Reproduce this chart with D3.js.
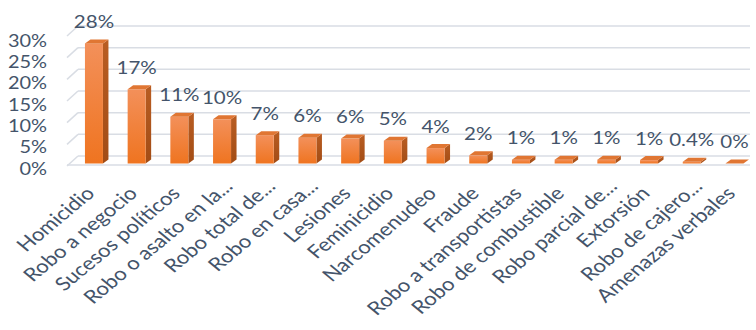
<!DOCTYPE html>
<html>
<head>
<meta charset="utf-8">
<script src="https://cdn.jsdelivr.net/npm/d3@7"></script>
<style>
  html, body { margin: 0; padding: 0; background: #fff; }
  svg { display: block; }
  text { font-family: Lato, "Open Sans", sans-serif; fill: #44546A; }
</style>
</head>
<body>
<svg id="chart" width="756" height="330"></svg>
<script>
const categories = [
  "Homicidio", "Robo a negocio", "Sucesos políticos", "Robo o asalto en la...",
  "Robo total de...", "Robo en casa...", "Lesiones", "Feminicidio",
  "Narcomenudeo", "Fraude", "Robo a transportistas", "Robo de combustible",
  "Robo parcial de...", "Extorsión", "Robo de cajero...", "Amenazas verbales"
];
const values = [28, 17.3, 10.9, 10.3, 6.6, 6.0, 5.8, 5.3, 3.6, 1.9, 0.9, 0.9, 0.9, 0.8, 0.4, 0];
const valueLabels = ["28%", "17%", "11%", "10%", "7%", "6%", "6%", "5%", "4%", "2%", "1%", "1%", "1%", "1%", "0.4%", "0%"];
const yTicks = [0, 5, 10, 15, 20, 25, 30];

const svg = d3.select("#chart");
const FONT = "Lato, 'Open Sans', sans-serif";
const SX = 1.14; // horizontal stretch seen in the reference

const x = d3.scaleBand().domain(categories).range([72.6, 755.8]).padding(0);
const y = d3.scaleLinear().domain([0, 30]).range([163.5, 34.8]);        // front plane (bars)
const yBack = d3.scaleLinear().domain([0, 30]).range([156, 26]);        // back wall gridlines
const yLab = d3.scaleLinear().domain([0, 30]).range([168, 40]);         // axis labels

const defs = svg.append("defs");
const gFront = defs.append("linearGradient").attr("id", "gFront")
  .attr("x1", 0).attr("y1", 0).attr("x2", 0).attr("y2", 1);
gFront.append("stop").attr("offset", "0%").attr("stop-color", "#F3905A");
gFront.append("stop").attr("offset", "100%").attr("stop-color", "#EF7420");
const gSide = defs.append("linearGradient").attr("id", "gSide")
  .attr("x1", 0).attr("y1", 0).attr("x2", 0).attr("y2", 1);
gSide.append("stop").attr("offset", "0%").attr("stop-color", "#B95D22");
gSide.append("stop").attr("offset", "100%").attr("stop-color", "#A24C15");

// Gridlines (back wall + side wall diagonals)
const grid = svg.append("g").attr("stroke", "#D9DDE4").attr("stroke-width", 1.5).attr("fill", "none");
const backL = 78, backR = 750, sideL = 67, depthY = 10;
yTicks.forEach(t => {
  const yy = yBack(t);
  grid.append("line").attr("x1", backL).attr("x2", backR).attr("y1", yy).attr("y2", yy);
  grid.append("line").attr("x1", sideL).attr("y1", yy + depthY).attr("x2", backL).attr("y2", yy);
});
// floor front edge
grid.append("line").attr("x1", sideL).attr("x2", backR).attr("y1", yBack(0) + 9).attr("y2", yBack(0) + 9);

// Y axis labels
const yAxis = d3.axisLeft(yLab).tickValues(yTicks).tickSize(0).tickPadding(0)
  .tickFormat(d => d + "%");
const ga = svg.append("g").attr("transform", "translate(47,0)").call(yAxis);
ga.select(".domain").remove();
ga.selectAll("text").attr("font-family", FONT).attr("font-size", 17.5)
  .attr("fill", "#44546A").attr("dy", "0.36em")
  .attr("transform", `scale(${SX},1)`);

// Bars (3D look)
const bw = 18, dx = 5.5, dy = 4;
const bars = svg.append("g");
categories.forEach((c, i) => {
  const cx = x(c) + x.bandwidth() / 2;
  const x0 = cx - bw / 2;
  const yt = y(values[i]), yb = y(0);
  const g = bars.append("g");
  g.append("polygon")
    .attr("points", [[x0 + bw, yt], [x0 + bw + dx, yt - dy], [x0 + bw + dx, yb - dy], [x0 + bw, yb]].map(p => p.join(",")).join(" "))
    .attr("fill", "url(#gSide)");
  if (yb - yt > 0.3) {
    g.append("rect").attr("x", x0).attr("y", yt).attr("width", bw).attr("height", yb - yt)
      .attr("fill", "url(#gFront)");
  }
  g.append("polygon")
    .attr("points", [[x0, yt], [x0 + dx, yt - dy], [x0 + bw + dx, yt - dy], [x0 + bw, yt]].map(p => p.join(",")).join(" "))
    .attr("fill", "#E07633");
});

// Data labels
svg.append("g").selectAll("text").data(categories).join("text")
  .attr("transform", (c, i) => `translate(${x(c) + x.bandwidth() / 2},${y(values[i]) - 22}) scale(${SX},1)`)
  .attr("dy", "0.36em")
  .attr("text-anchor", "middle")
  .attr("font-size", 18)
  .text((c, i) => valueLabels[i]);

// Category labels
svg.append("g").selectAll("text").data(categories).join("text")
  .attr("text-anchor", "end")
  .attr("font-size", 18.5)
  .attr("transform", c => {
    const cx = x(c) + x.bandwidth() / 2;
    const trunc = c.endsWith("...");
    const ax = trunc ? cx + 12 : cx + 2;
    const ay = trunc ? 187.5 : 194.5;
    return `translate(${ax},${ay}) scale(1.2,1) rotate(-45)`;
  })
  .text(c => c);
</script>
</body>
</html>
